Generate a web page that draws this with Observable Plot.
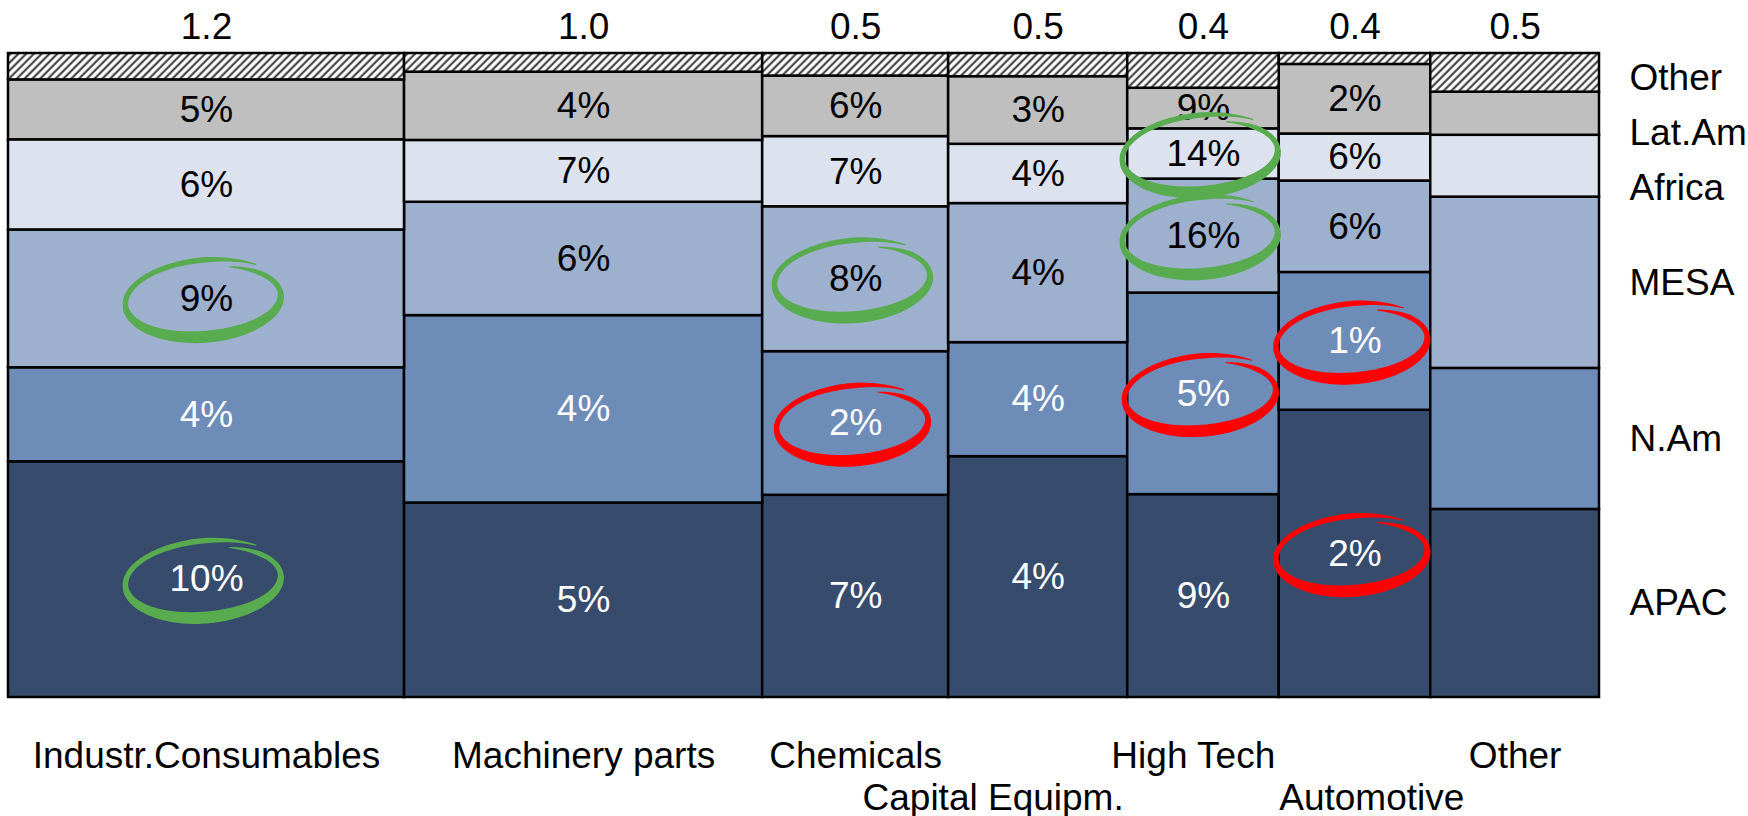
<!DOCTYPE html>
<html><head><meta charset="utf-8">
<script src="https://cdn.jsdelivr.net/npm/d3@7"></script>
<script src="https://cdn.jsdelivr.net/npm/@observablehq/plot@0.6"></script>
<style>html,body{margin:0;padding:0;background:#fff;} svg{display:block;}</style>
</head><body><div id="chart"></div>
<script>
// ---------- data ----------
const categories = ["Industr.Consumables", "Machinery parts", "Chemicals", "Capital Equipm.", "High Tech", "Automotive", "Other"];
const marketSize = [1.15, 1.04, 0.54, 0.52, 0.44, 0.44, 0.49];
const sizeLabels = ["1.2", "1.0", "0.5", "0.5", "0.4", "0.4", "0.5"];
const regions = ["APAC", "N.Am", "MESA", "Africa", "Lat.Am", "Other"];
// share of each region in each category (%), bottom to top
const shareAPAC   = [36.6, 30.2, 31.4, 37.4, 31.5, 44.6, 29.2];
const shareNAm    = [14.6, 29.1, 22.3, 17.7, 31.3, 21.4, 21.9];
const shareMESA   = [21.4, 17.6, 22.5, 21.6, 17.7, 14.2, 26.6];
const shareAfrica = [14.0,  9.6, 10.9,  9.2,  7.8,  7.3,  9.6];
const shareLatAm  = [ 9.3, 10.6,  9.4, 10.5,  6.3, 10.8,  6.7];
const shareOther  = [ 4.1,  2.9,  3.5,  3.6,  5.4,  1.7,  6.0];
// growth labels (%)
const growthAPAC   = [10, 5, 7, 4, 9, 2, null];
const growthNAm    = [4, 4, 2, 4, 5, 1, null];
const growthMESA   = [9, 6, 8, 4, 16, 6, null];
const growthAfrica = [6, 7, 7, 4, 14, 6, null];
const growthLatAm  = [5, 4, 6, 3, 9, 2, null];
// highlighted cells
const greenCircles = [["Industr.Consumables", "MESA"], ["Industr.Consumables", "APAC"], ["Chemicals", "MESA"], ["High Tech", "Africa"], ["High Tech", "MESA"]];
const redCircles = [["Chemicals", "N.Am"], ["High Tech", "N.Am"], ["Automotive", "N.Am"], ["Automotive", "APAC"]];

// ---------- styling / layout ----------
const FONT = "'Liberation Sans', Arial, Helvetica, sans-serif";
const FS = 37;
const regionColor = {"APAC": "#374c6c", "N.Am": "#6e8cb8", "MESA": "#9db0ce", "Africa": "#dde3ee", "Lat.Am": "#bfbfbf", "Other": "url(#hatch)"};
const darkRegions = new Set(["APAC", "N.Am"]);
const bottomAnchor = ["middle", "middle", "middle", "end", "end", "start", "middle"];
const bottomRow = [0, 0, 0, 1, 0, 1, 0];

const shares = {"APAC": shareAPAC, "N.Am": shareNAm, "MESA": shareMESA, "Africa": shareAfrica, "Lat.Am": shareLatAm, "Other": shareOther};
const growth = {"APAC": growthAPAC, "N.Am": growthNAm, "MESA": growthMESA, "Africa": growthAfrica, "Lat.Am": growthLatAm};

const cols = [];
let acc = 0;
categories.forEach((c, i) => {
  cols.push({cat: c, i, x0: acc, x1: acc + marketSize[i], xm: acc + marketSize[i] / 2, label: sizeLabels[i], anchor: bottomAnchor[i], row: bottomRow[i]});
  acc += marketSize[i];
});
const total = acc;

const segs = [];
cols.forEach(col => {
  let y = 0;
  regions.forEach(r => {
    const v = shares[r][col.i];
    const g = growth[r] ? growth[r][col.i] : null;
    segs.push({cat: col.cat, region: r, x0: col.x0, x1: col.x1, xm: col.xm, y0: y, y1: y + v, ym: y + v / 2, growth: g});
    y += v;
  });
});

// legend labels: aligned to last column, spread apart from the top
const pxPerPct = (697 - 53) / 100;
const lastCol = cols[cols.length - 1];
const legendItems = [];
{
  let limit = 100 - 25 / pxPerPct;
  const lastSegs = segs.filter(s => s.cat === lastCol.cat && s.x0 === lastCol.x0).slice().reverse();
  lastSegs.forEach(s => {
    const y = Math.min(s.ym, limit);
    legendItems.push({region: s.region, y});
    limit = y - 55 / pxPerPct;
  });
}

// hand-drawn ellipse symbol
const handEllipse = {
  draw(ctx, size) {
    const r = Math.sqrt(size / Math.PI);
    const rx = r * 2.1, ry = r;
    const tilt = -5 * Math.PI / 180;
    const start = -50 * Math.PI / 180, sweep = 378 * Math.PI / 180;
    const n = 180;
    const outer = [], inner = [];
    const rot = ([x, y]) => [x * Math.cos(tilt) - y * Math.sin(tilt), x * Math.sin(tilt) + y * Math.cos(tilt)];
    for (let k = 0; k <= n; k++) {
      const s = k / n;
      const th = start - s * sweep;
      const f = 1.0 - 0.17 * s * s * s;
      const taper = Math.max(0, Math.min(1, s / 0.1, (1 - s) / 0.08));
      const w = (5.5 + 6.5 * Math.max(0, Math.sin(th))) * (0.2 + 0.8 * taper);
      outer.push(rot([(rx * f + w / 2) * Math.cos(th), (ry * f + w / 2) * Math.sin(th)]));
      inner.push(rot([(rx * f - w / 2) * Math.cos(th), (ry * f - w / 2) * Math.sin(th)]));
    }
    ctx.moveTo(outer[0][0], outer[0][1]);
    for (let k = 1; k < outer.length; k++) ctx.lineTo(outer[k][0], outer[k][1]);
    for (let k = inner.length - 1; k >= 0; k--) ctx.lineTo(inner[k][0], inner[k][1]);
    ctx.closePath();
  }
};

const findSeg = ([c, r]) => segs.find(s => s.cat === c && s.region === r);
const greenData = greenCircles.map(findSeg);
const redData = redCircles.map(findSeg);

const textBase = {fontSize: FS, fontFamily: FONT};

const marks = [];
regions.forEach(r => {
  marks.push(Plot.rect(segs.filter(s => s.region === r), {x1: "x0", x2: "x1", y1: "y0", y2: "y1", fill: regionColor[r], stroke: "#000", strokeWidth: 2.5}));
});
marks.push(
  Plot.text(segs.filter(s => s.growth != null && !darkRegions.has(s.region)), {x: "xm", y: "ym", text: d => d.growth + "%", fill: "#000", ...textBase}),
  Plot.text(segs.filter(s => s.growth != null && darkRegions.has(s.region)), {x: "xm", y: "ym", text: d => d.growth + "%", fill: "#fff", ...textBase}),
  Plot.dot(greenData, {x: "xm", y: "ym", r: 39, symbol: handEllipse, fill: "#58ab4e"}),
  Plot.dot(redData, {x: "xm", y: "ym", r: 38, symbol: handEllipse, fill: "#ff0000"}),
  Plot.text(cols, {x: "xm", y: () => 100, text: "label", dy: -26, fill: "#000", ...textBase})
);
// bottom labels per row and anchor
[0, 1].forEach(row => {
  const dy = row === 0 ? 59 : 101;
  marks.push(
    Plot.text(cols.filter(c => c.anchor === "middle" && c.row === row), {x: "xm", y: () => 0, text: "cat", textAnchor: "middle", dy, fill: "#000", ...textBase}),
    Plot.text(cols.filter(c => c.anchor === "end" && c.row === row), {x: "x1", y: () => 0, text: "cat", textAnchor: "end", dx: -4, dy, fill: "#000", ...textBase}),
    Plot.text(cols.filter(c => c.anchor === "start" && c.row === row), {x: "x0", y: () => 0, text: "cat", textAnchor: "start", dx: 0, dy, fill: "#000", ...textBase})
  );
});
marks.push(
  Plot.text(legendItems, {x: () => total, y: "y", text: "region", textAnchor: "start", dx: 30, fill: "#000", ...textBase})
);

const chart = Plot.plot({
  width: 1748,
  height: 816,
  marginLeft: 8,
  marginRight: 149,
  marginTop: 53,
  marginBottom: 119,
  x: {domain: [0, total], axis: null},
  y: {domain: [0, 100], axis: null},
  style: {background: "#fff", overflow: "visible"},
  marks
});

const svg = d3.select(chart);
const defs = svg.insert("defs", ":first-child");
const pat = defs.append("pattern").attr("id", "hatch").attr("patternUnits", "userSpaceOnUse")
  .attr("width", 5.5).attr("height", 5.5).attr("patternTransform", "rotate(45)");
pat.append("rect").attr("width", 5.5).attr("height", 5.5).attr("fill", "#fff");
pat.append("line").attr("x1", 1.5).attr("y1", 0).attr("x2", 1.5).attr("y2", 5.5).attr("stroke", "#333").attr("stroke-width", 2);

document.getElementById("chart").appendChild(chart);
</script>
</body></html>
